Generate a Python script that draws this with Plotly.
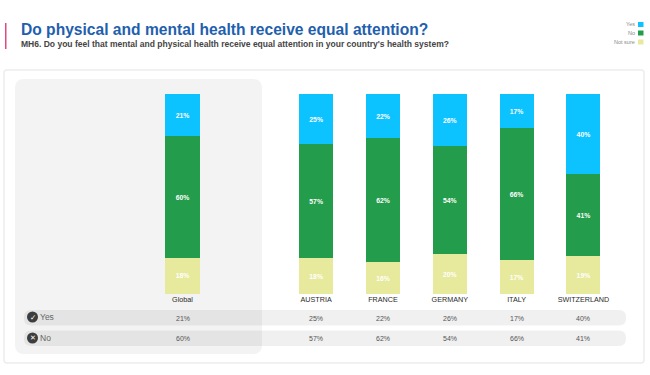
import plotly.graph_objects as go

W, H = 650, 375
FONT = "Liberation Sans"

categories = ["Global", " ", "AUSTRIA", "FRANCE", "GERMANY", "ITALY", "SWITZERLAND"]
bar_categories = ["Global", "AUSTRIA", "FRANCE", "GERMANY", "ITALY", "SWITZERLAND"]
yes_values = [21, 25, 22, 26, 17, 40]
no_values = [60, 57, 62, 54, 66, 41]
not_sure_values = [18, 18, 16, 20, 17, 19]

COL_YES, COL_NO, COL_NS = "#0cc2ff", "#239c4b", "#e7ea9c"


def px(x):
    return x / W


def py(y):
    return 1 - y / H


def rrect(x0, y0, x1, y1, r, fill, line="rgba(0,0,0,0)", lw=0):
    X0, X1, Y0, Y1 = px(x0), px(x1), py(y0), py(y1)
    rx, ry = r / W, r / H
    path = (f"M {X0+rx} {Y0} L {X1-rx} {Y0} Q {X1} {Y0} {X1} {Y0-ry} "
            f"L {X1} {Y1+ry} Q {X1} {Y1} {X1-rx} {Y1} L {X0+rx} {Y1} "
            f"Q {X0} {Y1} {X0} {Y1+ry} L {X0} {Y0-ry} Q {X0} {Y0} {X0+rx} {Y0} Z")
    return dict(type="path", xref="paper", yref="paper", path=path, fillcolor=fill,
                line=dict(color=line, width=lw), layer="below")


def box(x0, y0, x1, y1, fill):
    return dict(type="rect", xref="paper", yref="paper", x0=px(x0), x1=px(x1), y0=py(y0), y1=py(y1),
                fillcolor=fill, line=dict(width=0), layer="below")


def circle(cx, cy, r, fill):
    return dict(type="circle", xref="paper", yref="paper", x0=px(cx - r), x1=px(cx + r),
                y0=py(cy - r), y1=py(cy + r), fillcolor=fill, line=dict(width=0), layer="below")


def note(x, y, text, size, color, anchor="left", bold=False, xref="paper", family=FONT):
    return dict(x=px(x) if xref == "paper" else x, y=py(y), xref=xref, yref="paper", text=f"<b>{text}</b>" if bold else text,
                showarrow=False, xanchor=anchor, yanchor="middle", align=anchor,
                font=dict(family=family, size=size, color=color))


fig = go.Figure()
for name, vals, col in [("Not sure", not_sure_values, COL_NS), ("No", no_values, COL_NO), ("Yes", yes_values, COL_YES)]:
    fig.add_bar(x=bar_categories, y=vals, name=name, marker=dict(color=col, line=dict(width=0)),
                text=[f"<b>{v}%</b>" for v in vals], textposition="inside", insidetextanchor="middle",
                textangle=0, insidetextfont=dict(family=FONT, size=6.8, color="#ffffff"), constraintext="none",
                hoverinfo="skip")

shapes = [
    box(5, 23, 6.5, 49, "#e2487f"),
    rrect(4, 70, 644, 363, 3, "#ffffff", "#ededed", 1.5),
    rrect(15, 79, 262, 354, 9, "#f3f3f3"),
    rrect(24, 310, 626, 325.5, 7, "rgba(0,0,0,0.06)"),
    rrect(24, 330.5, 626, 346, 7, "rgba(0,0,0,0.06)"),
    circle(32.5, 317, 5.5, "#3d3d3d"),
    circle(32.5, 338, 5.5, "#3d3d3d"),
    box(638, 22, 643.5, 27, COL_YES),
    box(638, 30.5, 643.5, 35.5, COL_NO),
    box(638, 39.5, 643.5, 44.5, COL_NS),
]

annotations = [
    note(18.5, 30, "Do physical and mental health receive equal attention?", 15.6, "#1f5fae", bold=True),
    note(18.5, 44, "MH6. Do you feel that mental and physical health receive equal attention in your country's health system?", 8.53, "#444444", bold=True),
    note(636.5, 24, "Yes", 5.5, "#8a8a8a", "right"),
    note(636.5, 33, "No", 5.5, "#8a8a8a", "right"),
    note(636.5, 42, "Not sure", 5.5, "#8a8a8a", "right"),
    note(38, 317, "Yes", 8.5, "#666666"),
    note(38, 337.5, "No", 8.5, "#666666"),
    note(32.5, 317, "✓", 7.5, "#ffffff", "center", True, family="DejaVu Sans"),
    note(32.5, 338, "✕", 7, "#ffffff", "center", True, family="DejaVu Sans"),
]
for c, y_v, n_v in zip(bar_categories, yes_values, no_values):
    annotations.append(note(c, 318.5, f"{y_v}%", 7, "#555555", "center", xref="x"))
    annotations.append(note(c, 338.5, f"{n_v}%", 7, "#555555", "center", xref="x"))

fig.update_layout(
    width=W, height=H, autosize=False,
    margin=dict(l=0, r=0, t=0, b=0, pad=0),
    paper_bgcolor="#ffffff", plot_bgcolor="rgba(0,0,0,0)",
    barmode="stack", barnorm="percent", bargap=0.49, showlegend=False,
    xaxis=dict(domain=[px(149.1), px(616.8)], type="category", categoryorder="array", categoryarray=categories,
               range=[-0.5, 6.5], tickmode="array", tickvals=bar_categories, ticktext=bar_categories,
               showgrid=False, zeroline=False, showline=False, ticks="", ticklen=0,
               tickfont=dict(family=FONT, size=7.2, color="#2a2a2a"), tickangle=0),
    yaxis=dict(domain=[py(294), py(94)], range=[0, 100], visible=False),
    shapes=shapes, annotations=annotations,
)

fig.write_html("out.html", post_script="document.body.style.margin='0';", config={"displayModeBar": False})
